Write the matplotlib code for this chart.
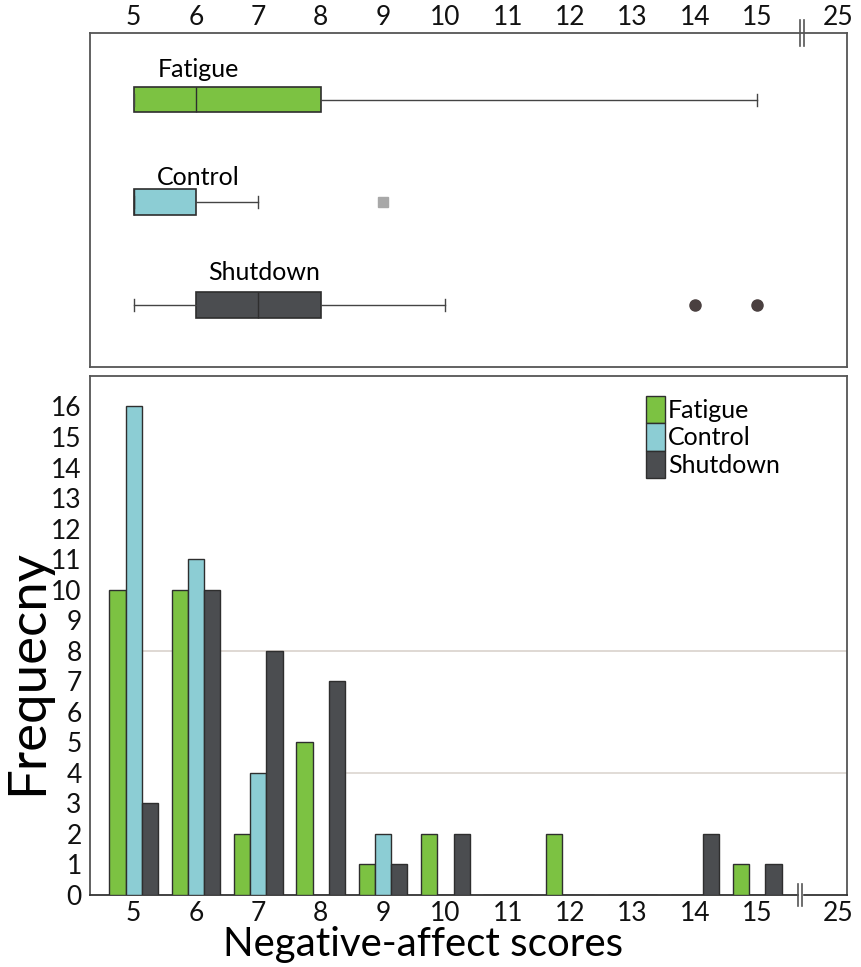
import numpy as np
import matplotlib
matplotlib.use("Agg")
import matplotlib.pyplot as plt
from matplotlib.patches import Patch
import matplotlib.transforms as mtransforms

plt.rcParams['font.family'] = ['Lato', 'DejaVu Sans']

# ---------------- data ----------------
scores = [5, 6, 7, 8, 9, 10, 11, 12, 13, 14, 15]
tick_labels = ['5', '6', '7', '8', '9', '10', '11', '12', '13', '14', '15', '25']
fatigue = [10, 10, 2, 5, 1, 2, 0, 2, 0, 0, 1]
control = [16, 11, 4, 0, 2, 0, 0, 0, 0, 0, 0]
shutdown = [3, 10, 8, 7, 1, 2, 0, 0, 0, 2, 1]
series_names = ['Fatigue', 'Control', 'Shutdown']

# box-plot summaries (q1, median, q3, whisker low, whisker high, outliers)
fatigue_box = dict(q1=5, med=6, q3=8, whislo=5, whishi=15, fliers=[])
control_box = dict(q1=5, med=5, q3=6, whislo=5, whishi=7, fliers=[9])
shutdown_box = dict(q1=6, med=7, q3=8, whislo=5, whishi=10, fliers=[14, 15])

colors = ['#7cc242', '#8ccdd4', '#4b4d50']
edge = '#2e2e2e'

# ---------------- figure ----------------
fig = plt.figure(figsize=(8.62, 9.67), dpi=100)
ax_top = fig.add_axes([0.1044, 0.6205, 0.8782, 0.3454])
ax = fig.add_axes([0.1044, 0.0745, 0.8782, 0.5367])

x = np.array(scores, dtype=float)
tick_pos = list(x) + [16.3]
break_x = 15.69
xlim = (4.3, 16.44)

# ---------------- bottom: histogram bars ----------------
w = 0.26
for i, (vals, c, name) in enumerate(zip([fatigue, control, shutdown], colors, series_names)):
    ax.bar(x + (i - 1) * w, vals, width=w, color=c, edgecolor=edge, linewidth=1.0,
           zorder=3, label=name)

ax.axhline(8, xmin=0.07, xmax=1, color='#d9d2cc', lw=1.2, zorder=1)
ax.axhline(4, xmin=0.34, xmax=1, color='#dcd6d0', lw=1.2, zorder=1)

ax.set_xlim(*xlim)
ax.set_ylim(0, 17.0)
ax.set_yticks(range(0, 17))
ax.set_xticks(tick_pos)
ax.set_xticklabels(tick_labels)
ax.tick_params(axis='both', length=0, labelsize=19, colors='#111111')
ax.tick_params(axis='x', pad=4)
ax.tick_params(axis='y', pad=6)
for s in ax.spines.values():
    s.set_color('#555555')
    s.set_linewidth(1.3)
ax.spines['bottom'].set_color('#333333')

ax.set_ylabel('Frequecny', fontsize=38)
ax.yaxis.set_label_coords(-0.051, 0.43)
ax.set_xlabel('Negative-affect scores', fontsize=29)
ax.xaxis.set_label_coords(0.44, -0.06)

leg = ax.legend(handles=[Patch(facecolor=c, edgecolor=edge, label=n) for c, n in zip(colors, series_names)],
                loc='upper left', bbox_to_anchor=(0.712, 0.995), frameon=False,
                fontsize=18, handlelength=0.75, handleheight=1.3, labelspacing=0.0,
                handletextpad=0.1, borderpad=0.2)

# axis break marks
trans = mtransforms.blended_transform_factory(ax.transData, ax.transAxes)
for dx in (-0.03, 0.03):
    ax.plot([break_x + dx, break_x + dx], [-0.022, 0.022], color='#555555', lw=1.2,
            transform=trans, clip_on=False, zorder=5)
ax.fill_between([break_x - 0.025, break_x + 0.025], -0.004, 0.004, color='white',
                transform=trans, clip_on=False, zorder=4)

# ---------------- top: box plots ----------------
box_specs = [(fatigue_box, 3, colors[0], '#2e2e2e', 'o', 0),
             (control_box, 2, colors[1], '#a8a8a8', 's', 7),
             (shutdown_box, 1, colors[2], '#4a4040', 'o', 8)]
for stats, ypos, c, fc, mk, ms in box_specs:
    ax_top.bxp([stats], positions=[ypos], vert=False, widths=0.25, patch_artist=True,
               showfliers=True, capwidths=[0.12],
               boxprops=dict(facecolor=c, edgecolor=edge, linewidth=1.2),
               medianprops=dict(color=edge, linewidth=1.0),
               whiskerprops=dict(color='#444444', linewidth=1.0),
               capprops=dict(color='#444444', linewidth=1.0),
               flierprops=dict(marker=mk, markerfacecolor=fc, markeredgecolor=fc,
                               markersize=ms if ms else 6))

ax_top.text(5.38, 3.29, 'Fatigue', fontsize=18, va='center', ha='left')
ax_top.text(5.38, 2.24, 'Control', fontsize=18, va='center', ha='left')
ax_top.text(6.2, 1.32, 'Shutdown', fontsize=18, va='center', ha='left')

ax_top.set_xlim(*xlim)
ax_top.set_ylim(0.395, 3.65)
ax_top.set_yticks([])
ax_top.xaxis.tick_top()
ax_top.set_xticks(tick_pos)
ax_top.set_xticklabels(tick_labels)
ax_top.tick_params(axis='x', length=0, labelsize=19, pad=2, colors='#111111')
for s in ax_top.spines.values():
    s.set_color('#555555')
    s.set_linewidth(1.3)

trans_t = mtransforms.blended_transform_factory(ax_top.transData, ax_top.transAxes)
for dx in (-0.03, 0.03):
    ax_top.plot([15.72 + dx, 15.72 + dx], [0.96, 1.04], color='#555555',
                lw=1.2, transform=trans_t, clip_on=False, zorder=5)

fig.savefig('out.png', dpi=100, facecolor='white')
